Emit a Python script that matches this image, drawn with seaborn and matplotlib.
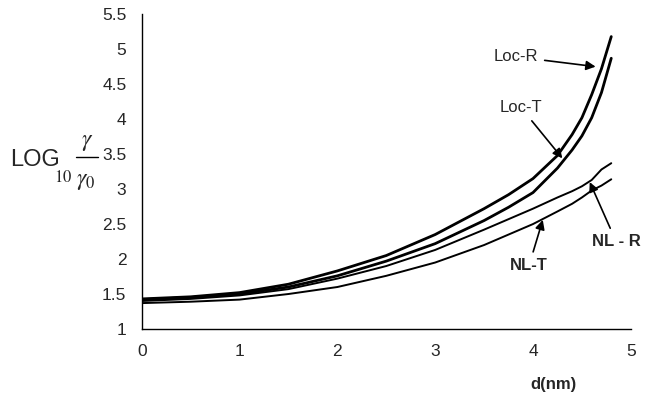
import numpy as np
import pandas as pd
import matplotlib
matplotlib.use("Agg")
import matplotlib.pyplot as plt
from matplotlib.lines import Line2D
import seaborn as sns

# values (d in nm, log10 gamma/gamma0)
d_nm = [0, 0.5, 1, 1.5, 2, 2.5, 3, 3.5, 3.75, 4, 4.25, 4.4, 4.5, 4.6, 4.7, 4.8]
loc_r = [1.43, 1.46, 1.52, 1.64, 1.83, 2.05, 2.35, 2.72, 2.92, 3.15, 3.48, 3.78, 4.02, 4.35, 4.72, 5.18]
loc_t = [1.42, 1.45, 1.50, 1.60, 1.76, 1.97, 2.22, 2.55, 2.74, 2.95, 3.30, 3.56, 3.76, 4.02, 4.38, 4.87]
nl_r = [1.40, 1.43, 1.48, 1.57, 1.72, 1.90, 2.13, 2.42, 2.57, 2.72, 2.88, 2.97, 3.04, 3.13, 3.28, 3.37]
nl_t = [1.37, 1.39, 1.42, 1.50, 1.60, 1.76, 1.95, 2.20, 2.35, 2.50, 2.68, 2.79, 2.88, 2.98, 3.05, 3.14]

x_ticks = [0, 1, 2, 3, 4, 5]
y_ticks = [1, 1.5, 2, 2.5, 3, 3.5, 4, 4.5, 5, 5.5]

sns.set_style("white")
plt.rcParams['font.family'] = ['Liberation Sans', 'DejaVu Sans']
plt.rcParams['mathtext.fontset'] = 'stix'

fig = plt.figure(figsize=(6.47, 3.94), dpi=100)
ax = fig.add_axes([0.219, 0.165, 0.756, 0.799])

# Loc curves drawn heavier than the NL ones, like the scan
sns.lineplot(x=d_nm, y=loc_r, ax=ax, color='black', lw=2.0, estimator=None)
sns.lineplot(x=d_nm, y=loc_t, ax=ax, color='black', lw=2.0, estimator=None)
sns.lineplot(x=d_nm, y=nl_r, ax=ax, color='black', lw=1.4, estimator=None)
sns.lineplot(x=d_nm, y=nl_t, ax=ax, color='black', lw=1.4, estimator=None)

ax.set_xlim(0, 5)
ax.set_ylim(1, 5.5)
ax.set_xticks(x_ticks)
ax.set_yticks(y_ticks)
ax.set_xticklabels([str(t) for t in x_ticks])
ax.set_yticklabels([('%g' % t) for t in y_ticks])
ax.tick_params(axis='both', direction='out', length=4, width=1, color='black',
               labelsize=12.5, pad=7)
for side in ['top', 'right']:
    ax.spines[side].set_visible(False)
for side in ['left', 'bottom']:
    ax.spines[side].set_color('black')
    ax.spines[side].set_linewidth(1)

arrow = dict(arrowstyle='-|>', color='black', lw=1.2, mutation_scale=14,
             shrinkA=2, shrinkB=0)
ax.annotate('Loc-R', xy=(4.64, 4.75), xytext=(3.83, 4.89), fontsize=12,
            ha='center', va='center', arrowprops=arrow)
ax.annotate('Loc-T', xy=(4.30, 3.44), xytext=(3.88, 4.16), fontsize=12,
            ha='center', va='center', arrowprops=arrow)
ax.annotate('NL - R', xy=(4.58, 3.10), xytext=(4.85, 2.25), fontsize=12,
            ha='center', va='center', fontweight='bold', arrowprops=arrow)
ax.annotate('NL-T', xy=(4.10, 2.56), xytext=(3.96, 1.91), fontsize=12,
            ha='center', va='center', fontweight='bold', arrowprops=arrow)

fig.text(0.855, 0.025, 'd(nm)', fontsize=12, fontweight='bold', ha='center', va='center')

# y label: LOG_10 gamma / gamma_0, built by hand so the fraction stays large
fig.text(0.015, 0.594, 'LOG', fontsize=17, ha='left', va='center')
fig.text(0.098, 0.551, r'$\mathit{10}$', fontsize=12, ha='center', va='center')
fig.text(0.135, 0.640, r'$\gamma$', fontsize=17, ha='center', va='center')
fig.text(0.133, 0.540, r'$\gamma_0$', fontsize=17, ha='center', va='center')
fig.add_artist(Line2D([0.117, 0.151], [0.6015, 0.6015], color='black', lw=1,
                      transform=fig.transFigure))

fig.savefig('out.png', dpi=100)
